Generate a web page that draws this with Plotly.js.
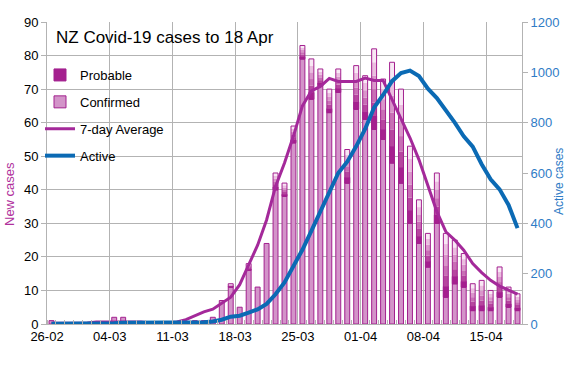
<!DOCTYPE html>
<html><head><meta charset="utf-8">
<script src="https://cdn.plot.ly/plotly-3.0.1.min.js"></script>
<style>html,body{margin:0;padding:0;background:#fff}#chart{width:572px;height:392px}</style>
</head><body><div id="chart"></div>
<script>
const dates = ['26-02','27-02','28-02','29-02','01-03','02-03','03-03','04-03','05-03','06-03','07-03','08-03','09-03','10-03','11-03','12-03','13-03','14-03','15-03','16-03','17-03','18-03','19-03','20-03','21-03','22-03','23-03','24-03','25-03','26-03','27-03','28-03','29-03','30-03','31-03','01-04','02-04','03-04','04-04','05-04','06-04','07-04','08-04','09-04','10-04','11-04','12-04','13-04','14-04','15-04','16-04','17-04','18-04'];
const confirmed = [1,0,0,0,0,0,0,2,2,0,0,0,0,0,0,0,1,1,2,7,11,5,16,11,24,40,38,54,79,67,71,63,69,42,64,61,58,55,48,42,30,24,17,30,8,12,11,4,4,4,8,5,4];
const probable  = [0,0,0,0,0,0,0,0,0,0,0,0,0,0,0,0,0,0,0,0,1,0,2,0,0,5,4,5,4,12,5,7,7,10,13,13,24,18,30,28,23,13,10,15,19,13,10,8,9,6,9,6,5];
const avg7 = [0.2,0.2,0.2,0.2,0.3,0.6,0.6,0.6,0.6,0.6,0.6,0.3,0.1,0.3,0.6,1.3,2.5,3.6,4.4,6.3,8,11.7,17.4,23.5,31,41,48,56,65,69.5,70.8,73.2,72.3,72.3,72.3,73.3,72.6,72.6,67,61,55.5,49,41,33.5,27.5,25,22,18,15.3,13,11.3,10,8.9];
const active = [1,1,1,1,1,1,1,3,5,5,5,5,5,5,5,5,6,7,10,17,29,33,45,58,80,118,165,228,295,370,445,525,600,645,706,775,860,910,965,997,1007,985,935,898,852,800,746,705,635,575,535,473,381];
const tickLabels = ['26-02','04-03','11-03','18-03','25-03','01-04','08-04','15-04'];

const N = dates.length;
const xs = dates.map((_, i) => i);
const nz = a => a.map(v => v > 0 ? v : null);
const W = 572, H = 392, L = 47, R = 50, T = 22, B = 68;
const pw = W - L - R, ph = H - T - B;
const edge = '#a3208f';
const bandColors = ['#a5208f','#b6469f','#c86fb5','#d996ca','#eabedf','#f8e8f4'];
const NB = bandColors.length;

const traces = [];
traces.push({type:'bar', x:xs, y:nz(confirmed), name:'Confirmed', legendgroup:'c', legendrank:2,
  marker:{color:'#d394c9', line:{color:edge, width:1}}});
bandColors.forEach((col, k) => {
  traces.push({type:'bar', x:xs, y:probable.map(p => p > 0 ? p / NB : null),
    base: confirmed.map((c, i) => c + k * probable[i] / NB),
    name:'Probable', legendgroup:'p', legendrank:1, showlegend:k === 0,
    marker:{color:col, line:{color:edge, width:k === 0 ? 1 : 0}}});
});
traces.push({type:'bar', x:xs, y:nz(probable), base:confirmed, showlegend:false, hoverinfo:'skip',
  marker:{color:'rgba(0,0,0,0)', line:{color:edge, width:1}}});
traces.push({type:'scatter', mode:'lines', x:xs, y:avg7, name:'7-day Average', legendgroup:'a', legendrank:3,
  line:{color:'#a4299a', width:3}});
traces.push({type:'scatter', mode:'lines', x:xs, y:active, yaxis:'y2', name:'Active', legendgroup:'b', legendrank:4,
  line:{color:'#0b6ab4', width:4}});

const tickPos = tickLabels.map(l => dates.indexOf(l) - 0.5);
const grid = '#b3b3b3';
const layout = {
  width:W, height:H, margin:{l:L, r:R, t:T, b:B, pad:0, autoexpand:false},
  paper_bgcolor:'#fff', plot_bgcolor:'#fff',
  font:{family:'"Liberation Sans", Arial, sans-serif', size:13, color:'#000'},
  barmode:'overlay', bargap:0.45,
  showlegend:true,
  legend:{xref:'paper', yref:'paper', x:(40 - L) / pw, y:(H - B - 60) / ph, xanchor:'left', yanchor:'top',
    bgcolor:'rgba(0,0,0,0)', font:{size:13}, tracegroupgap:7, traceorder:'grouped'},
  title:{text:'NZ Covid-19 cases to 18 Apr', xref:'container', yref:'container', x:56/W, xanchor:'left',
    y:1 - 37/H, yanchor:'middle', font:{size:17, color:'#000'}},
  xaxis:{range:[-0.5, N - 0.5], tickmode:'array', tickvals:tickPos, ticktext:tickLabels,
    ticklabelshift: pw / N / 2, showgrid:true, gridcolor:grid, gridwidth:1, ticks:'',
    zeroline:false, showline:true, linecolor:grid, tickfont:{size:13},
    minor:{tickmode:'linear', tick0:-0.5, dtick:1, ticks:'inside', ticklen:4, tickcolor:grid, showgrid:false}},
  yaxis:{range:[0, 90], tickmode:'linear', tick0:0, dtick:10, gridcolor:grid, ticks:'outside', ticklen:5,
    tickcolor:grid, showline:true, linecolor:grid, zeroline:false, tickfont:{size:13}},
  yaxis2:{overlaying:'y', side:'right', range:[0, 1200], tickmode:'linear', tick0:0, dtick:200, showgrid:false,
    ticks:'outside', ticklen:5, tickcolor:grid, showline:true, linecolor:grid, zeroline:false,
    tickfont:{size:13, color:'#2f7cc6'}},
  annotations:[
    {text:'New cases', xref:'paper', yref:'paper', x:(9 - L) / pw, y:(H - B - 194) / ph, textangle:-90,
      xanchor:'center', yanchor:'middle', showarrow:false, font:{size:13, color:'#b0309c'}},
    {text:'Active cases', xref:'paper', yref:'paper', x:(559 - L) / pw, y:(H - B - 182) / ph, textangle:-90,
      xanchor:'center', yanchor:'middle', showarrow:false, font:{size:12, color:'#2f7cc6'}}
  ]
};
Plotly.newPlot('chart', traces, layout, {displayModeBar:false, staticPlot:true});
</script>
</body></html>
